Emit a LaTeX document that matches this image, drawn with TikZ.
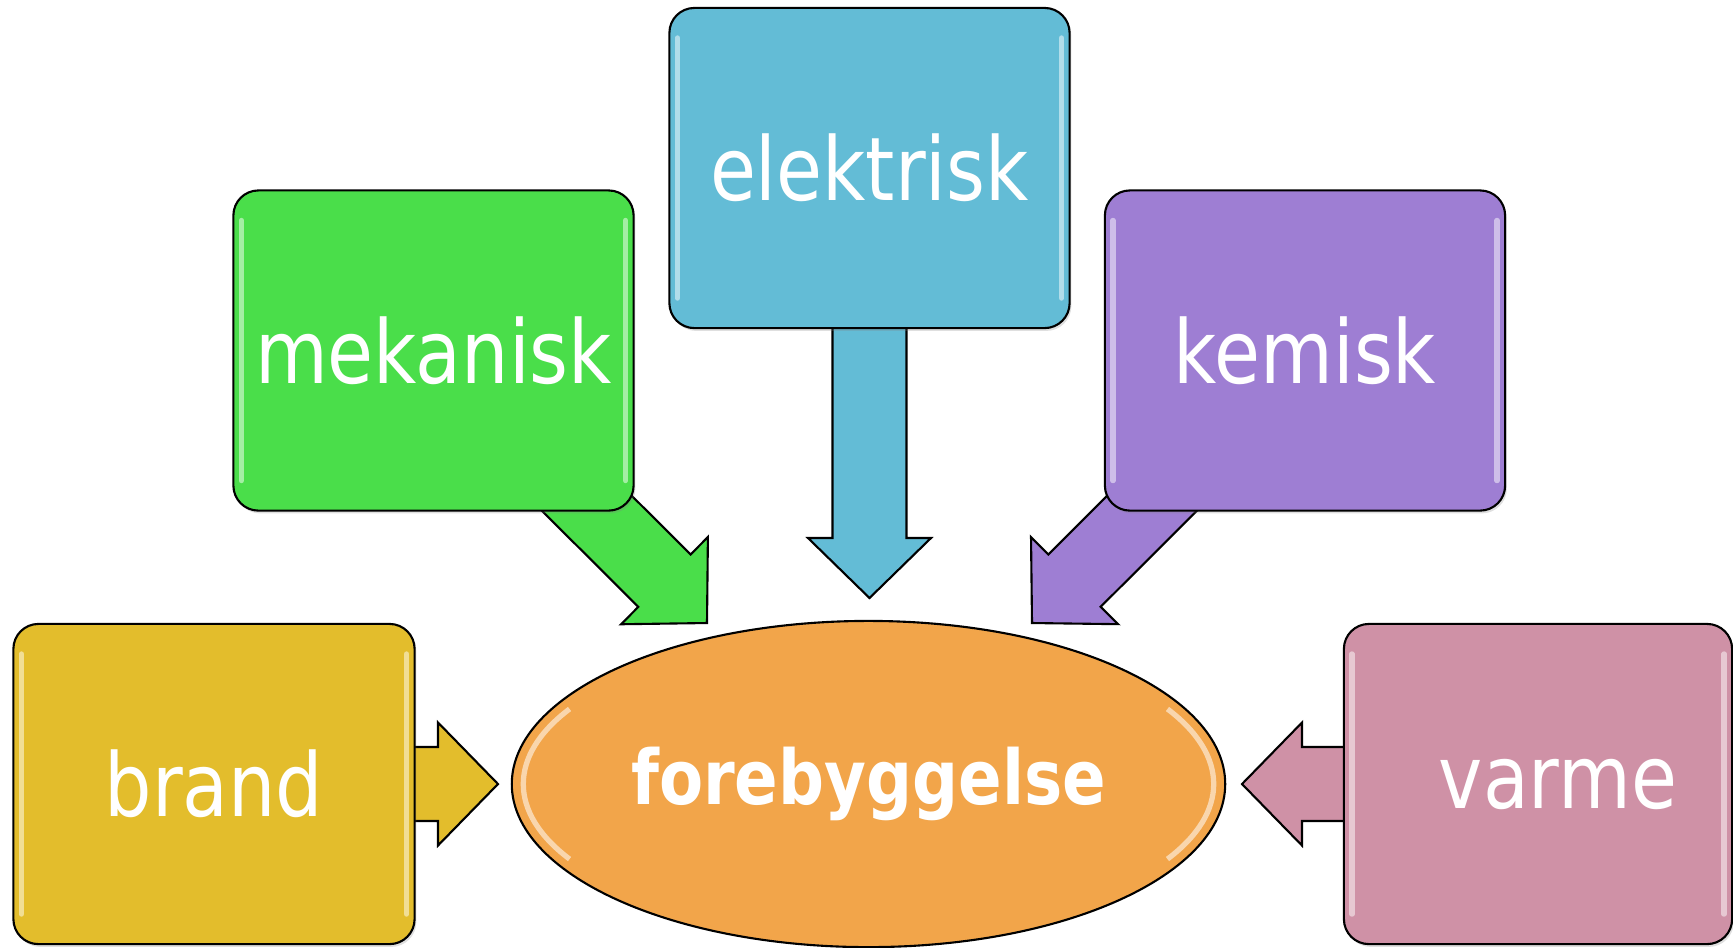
\documentclass[tikz,border=0pt]{standalone}
\usepackage{fontspec}
\setmainfont{DejaVu Sans}[FakeStretch=0.85]
\usetikzlibrary{shapes.geometric,calc,backgrounds,shadows}

\definecolor{elblue}{HTML}{63BCD6}
\definecolor{mekgreen}{HTML}{4ADE4A}
\definecolor{kempurple}{HTML}{9E7ED3}
\definecolor{brandyellow}{HTML}{E3BD2C}
\definecolor{varmepink}{HTML}{CF91A6}
\definecolor{centerorange}{HTML}{F2A54A}

\newcommand{\boxfont}{\fontsize{25pt}{30pt}\selectfont}
\newcommand{\centerfont}{\fontsize{21.5pt}{26pt}\selectfont\bfseries}

% block arrow from a node centre to a named tip
\newcommand{\blockarrow}[3]{%
  \coordinate (#1h) at ($(#2)!0.6cm!(#1)$);
  \draw[blockarr, fill=#3]
    ($(#1)!0.37cm!90:(#2)$) -- ($(#1h)!0.37cm!90:(#2)$) -- ($(#1h)!0.615cm!90:(#2)$)
    -- (#2) -- ($(#1h)!0.615cm!-90:(#2)$) -- ($(#1h)!0.37cm!-90:(#2)$)
    -- ($(#1)!0.37cm!-90:(#2)$) -- cycle;
}

\begin{document}
\begin{tikzpicture}[x=0.01cm, y=-0.01cm,
    gloss/.style={path picture={
      \draw[white, opacity=.5, line width=1.5pt, line cap=round]
        ([shift={(0.08cm,-0.3cm)}]path picture bounding box.north west) --
        ([shift={(0.08cm,0.3cm)}]path picture bounding box.south west);
      \draw[white, opacity=.5, line width=1.5pt, line cap=round]
        ([shift={(-0.08cm,-0.3cm)}]path picture bounding box.north east) --
        ([shift={(-0.08cm,0.3cm)}]path picture bounding box.south east);}},
    box/.style={draw=black, line width=0.6pt, rounded corners=0.25cm,
      minimum width=4cm, minimum height=3.2cm, inner sep=0pt,
      text=white, font=\boxfont, gloss,
      drop shadow={opacity=.25, shadow xshift=0.5pt, shadow yshift=-0.8pt}},
    hub/.style={draw=black, line width=0.6pt, ellipse, inner sep=0pt,
      fill=centerorange, minimum width=7.13cm, minimum height=3.26cm,
      text=white, font=\centerfont,
      path picture={
        \draw[white, opacity=.55, line width=1.5pt]
          ($(path picture bounding box.center)+(150:3.45cm and 1.5cm)$)
          arc[start angle=150, end angle=210, x radius=3.45cm, y radius=1.5cm];
        \draw[white, opacity=.55, line width=1.5pt]
          ($(path picture bounding box.center)+(-30:3.45cm and 1.5cm)$)
          arc[start angle=-30, end angle=30, x radius=3.45cm, y radius=1.5cm];}},
    blockarr/.style={draw=black, line width=0.6pt, line join=miter}]

    \useasboundingbox (0,0) rectangle (1733,947);

    \node (hub) [hub] at (868.5,784) {forebyggelse};

    \node (elek) [box, fill=elblue] at (869.5,168) {elektrisk};
    \node (mek) [box, fill=mekgreen] at (433.5,350.5) {mekanisk};
    \node (kem) [box, fill=kempurple] at (1305,350.5) {kemisk};
    \node (brand) [box, fill=brandyellow, minimum width=4.01cm] at (214,784) {brand};
    \node (varme) [box, fill=varmepink, minimum width=3.88cm] at (1538,784) {\hspace*{0.4cm}varme};

    \coordinate (elektip) at (869.5,598);
    \coordinate (mektip) at (707,623);
    \coordinate (kemtip) at (1032,623);
    \coordinate (brandtip) at (498,784);
    \coordinate (varmetip) at (1242,784);

    \begin{pgfonlayer}{background}
    \blockarrow{elek}{elektip}{elblue}
    \blockarrow{mek}{mektip}{mekgreen}
    \blockarrow{kem}{kemtip}{kempurple}
    \blockarrow{brand}{brandtip}{brandyellow}
    \blockarrow{varme}{varmetip}{varmepink}
    \end{pgfonlayer}

\end{tikzpicture}
\end{document}
